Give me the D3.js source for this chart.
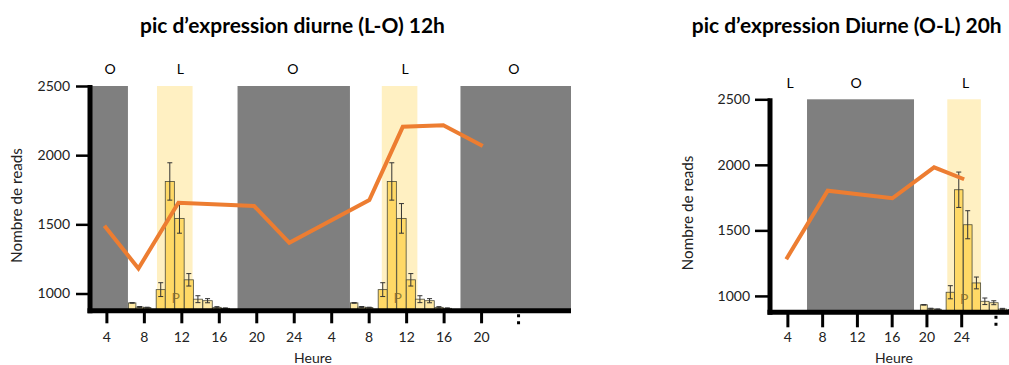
<!DOCTYPE html>
<html>
<head>
<meta charset="utf-8">
<script src="https://cdn.jsdelivr.net/npm/d3@7"></script>
<style>
  body { margin: 0; background: #fff; }
  svg { display: block; font-family: Lato, "Open Sans", sans-serif; }
</style>
</head>
<body>
<svg id="chart" width="1009" height="365"></svg>
<script>
// ---------------- DATA ----------------
const titles = ["pic d\u2019expression diurne (L-O) 12h", "pic d\u2019expression Diurne (O-L) 20h"];
const yLabel = "Nombre de reads";
const xLabel = "Heure";
const yTicks = [1000, 1500, 2000, 2500];
const yDomain = [875, 2500];

// left panel (hours on a continuous time axis)
const leftDomain = [2.25, 53.6];
const leftTickHours = [4, 8, 12, 16, 20, 24, 28, 32, 36, 40, 44];
const leftTickLabels = ["4", "8", "12", "16", "20", "24", "4", "8", "12", "16", "20"];
const leftEllipsisHour = 48;
const leftDark = [[2.25, 6.3], [18, 30], [41.8, 53.6]];
const leftLight = [[9.4, 13.2], [33.4, 37.2]];
const leftPhaseLabels = ["O", "L", "O", "L", "O"];
const leftPhaseHours = [4.4, 11.9, 23.9, 35.9, 47.5];
const leftLineHours = [3.79, 7.42, 11.69, 19.77, 23.53, 32.07, 35.64, 39.97, 44.18];
const leftLineValues = [1489, 1181, 1656, 1632, 1366, 1675, 2205, 2216, 2066];
const leftBarOffsets = [0, 23.7];

// right panel
const rightDomain = [2.0, 29.5];
const rightTickHours = [4, 8, 12, 16, 20, 24];
const rightTickLabels = ["4", "8", "12", "16", "20", "24"];
const rightEllipsisHour = 28;
const rightDark = [[6.26, 18.57]];
const rightLight = [[22.4, 26.26]];
const rightPhaseLabels = ["L", "O", "L"];
const rightPhaseHours = [4.3, 11.9, 24.5];
const rightLineHours = [3.87, 8.64, 16.08, 20.88, 24.34];
const rightLineValues = [1280, 1803, 1745, 1981, 1890];
const rightBarOffsets = [12.95];

// inset histogram (same in every copy), hours relative to the inset
const barHours = [6.75, 7.55, 8.35, 9.8, 10.77, 11.8, 12.8, 13.77, 14.8, 15.8, 16.7];
const barValues = [932, 902, 898, 1028, 1810, 1543, 1099, 959, 948, 900, 893];
const barErrors = [2, 4, 3, 50, 135, 107, 45, 25, 15, 5, 3];
const peakLabel = "P";
const peakHour = 11.4;

// ---------------- DRAW ----------------
const svg = d3.select("#chart");
svg.append("rect").attr("width", 1009).attr("height", 365).attr("fill", "#fff");

const DARK = "#7f7f7f", LIGHT = "#fff0c2", GOLD = "#ffd966", PALE = "#ffeaa6", ORANGE = "#ed7d31";

// bar widths derived from spacing of the inset bars
const barW = barHours.map((h, i) => {
  const dPrev = i > 0 ? h - barHours[i - 1] : Infinity;
  const dNext = i < barHours.length - 1 ? barHours[i + 1] - h : Infinity;
  return Math.min(1.0, dPrev, dNext);
});

function fitText(sel, target, base) {
  const w = sel.node().getComputedTextLength();
  sel.attr("font-size", base * target / w);
}

function panel(cfg) {
  const g = svg.append("g");
  const x = d3.scaleLinear().domain(cfg.domain).range(cfg.xRange);
  const y = d3.scaleLinear().domain(yDomain).range(cfg.yRange);
  const yTop = y(yDomain[1]), yBot = y(yDomain[0]);

  // dark periods
  g.selectAll(".dark").data(cfg.dark).join("rect")
    .attr("x", d => x(d[0])).attr("width", d => x(d[1]) - x(d[0]))
    .attr("y", yTop).attr("height", yBot - yTop).attr("fill", DARK);
  // light bands
  g.selectAll(".light").data(cfg.light).join("rect")
    .attr("x", d => x(d[0])).attr("width", d => x(d[1]) - x(d[0]))
    .attr("y", yTop).attr("height", yBot - yTop).attr("fill", LIGHT);

  // inset bars
  const inBand = h => cfg.light.some(b => h >= b[0] && h <= b[1]);
  cfg.offsets.forEach(off => {
    const bars = barHours.map((h, i) => ({ h: h + off, w: barW[i], v: barValues[i], e: barErrors[i] }));
    const bg = g.append("g");
    bg.selectAll("rect").data(bars).join("rect")
      .attr("x", d => x(d.h - d.w / 2))
      .attr("width", d => x(d.h + d.w / 2) - x(d.h - d.w / 2))
      .attr("y", d => y(d.v)).attr("height", d => yBot - y(d.v))
      .attr("fill", d => inBand(d.h) ? GOLD : PALE)
      .attr("stroke", "#4a4a3a").attr("stroke-width", 0.8);
    const eb = bg.selectAll(".eb").data(bars).join("g");
    eb.append("line")
      .attr("x1", d => x(d.h)).attr("x2", d => x(d.h))
      .attr("y1", d => y(d.v - d.e)).attr("y2", d => y(d.v + d.e))
      .attr("stroke", "#333").attr("stroke-width", 1);
    eb.append("line")
      .attr("x1", d => x(d.h) - 2.5).attr("x2", d => x(d.h) + 2.5)
      .attr("y1", d => y(d.v + d.e)).attr("y2", d => y(d.v + d.e))
      .attr("stroke", "#333").attr("stroke-width", 1);
    eb.append("line")
      .attr("x1", d => x(d.h) - 2.5).attr("x2", d => x(d.h) + 2.5)
      .attr("y1", d => y(d.v - d.e)).attr("y2", d => y(d.v - d.e))
      .attr("stroke", "#333").attr("stroke-width", 1);
    bg.append("text").text(peakLabel)
      .attr("x", x(peakHour + off)).attr("y", yBot - 8)
      .attr("text-anchor", "middle").attr("font-size", 14)
      .attr("fill", "#7f6a2a").attr("fill-opacity", 0.85);
  });

  // orange line
  const pts = cfg.lineHours.map((h, i) => [h, cfg.lineValues[i]]);
  g.append("path").datum(pts)
    .attr("d", d3.line().x(d => x(d[0])).y(d => y(d[1])))
    .attr("fill", "none").attr("stroke", ORANGE).attr("stroke-width", 4)
    .attr("stroke-linejoin", "miter");

  // y axis
  const ya = g.append("g").attr("transform", `translate(${cfg.xRange[0]},0)`)
    .call(d3.axisLeft(y).tickValues(yTicks).tickFormat(d3.format("d"))
      .tickSize(cfg.yTickSize).tickPadding(cfg.yTickPad));
  ya.select(".domain").remove();
  ya.selectAll(".tick line").attr("stroke", "#000").attr("stroke-width", 2.5);
  ya.selectAll(".tick text").attr("font-size", 14).attr("fill", "#222")
    .attr("font-family", "Lato, 'Open Sans', sans-serif");

  // x axis
  const xa = g.append("g").attr("transform", `translate(0,${yBot})`)
    .call(d3.axisBottom(x).tickValues(cfg.tickHours)
      .tickFormat((d, i) => cfg.tickLabels[i])
      .tickSize(cfg.xTickSize).tickPadding(cfg.xTickPad));
  xa.select(".domain").remove();
  xa.selectAll(".tick line").attr("stroke", "#000").attr("stroke-width", 3);
  xa.selectAll(".tick text").attr("font-size", 14).attr("fill", "#222")
    .attr("font-family", "Lato, 'Open Sans', sans-serif");
  // ellipsis tick (dotted)
  g.append("line")
    .attr("x1", x(cfg.ellipsis)).attr("x2", x(cfg.ellipsis))
    .attr("y1", yBot + 3.5).attr("y2", yBot + cfg.xTickSize + 1)
    .attr("stroke", "#000").attr("stroke-width", 3).attr("stroke-dasharray", "3,4");

  // thick axis lines
  g.append("line").attr("x1", cfg.xRange[0]).attr("x2", cfg.xRange[0])
    .attr("y1", yTop - 1).attr("y2", yBot + 2.5)
    .attr("stroke", "#000").attr("stroke-width", 5);
  g.append("line").attr("x1", cfg.xRange[0] - 2.5).attr("x2", cfg.xRange[1])
    .attr("y1", yBot).attr("y2", yBot)
    .attr("stroke", "#000").attr("stroke-width", 5);

  // phase labels
  g.selectAll(".phase").data(cfg.phaseLabels).join("text")
    .attr("x", (d, i) => x(cfg.phaseHours[i])).attr("y", cfg.phaseY)
    .attr("text-anchor", "middle").attr("font-size", 14).attr("fill", "#000")
    .text(d => d);

  // axis titles
  const yl = g.append("text").text(yLabel)
    .attr("transform", `translate(${cfg.yLabelX},${cfg.yLabelY}) rotate(-90)`)
    .attr("text-anchor", "middle").attr("font-size", 14).attr("fill", "#222");
  fitText(yl, 115, 14);
  g.append("text").text(xLabel)
    .attr("x", cfg.xLabelX).attr("y", 363)
    .attr("text-anchor", "middle").attr("font-size", 14).attr("fill", "#222");

  // title
  const t = g.append("text").text(cfg.title)
    .attr("x", cfg.titleX).attr("y", 32.5)
    .attr("text-anchor", "middle").attr("font-weight", "bold")
    .attr("font-size", 17).attr("fill", "#000");
  fitText(t, cfg.titleW, 17);
}

panel({
  title: titles[0], titleX: 292.5, titleW: 305,
  domain: leftDomain, xRange: [90, 571], yRange: [310.8, 86],
  tickHours: leftTickHours, tickLabels: leftTickLabels, ellipsis: leftEllipsisHour,
  dark: leftDark, light: leftLight,
  phaseLabels: leftPhaseLabels, phaseHours: leftPhaseHours, phaseY: 74,
  lineHours: leftLineHours, lineValues: leftLineValues,
  offsets: leftBarOffsets,
  yTickSize: 14, yTickPad: 6, xTickSize: 12.5, xTickPad: 8.5,
  yLabelX: 22, yLabelY: 205.5, xLabelX: 313
});

panel({
  title: titles[1], titleX: 846.7, titleW: 310,
  domain: rightDomain, xRange: [770, 1009], yRange: [312.3, 99.3],
  tickHours: rightTickHours, tickLabels: rightTickLabels, ellipsis: rightEllipsisHour,
  dark: rightDark, light: rightLight,
  phaseLabels: rightPhaseLabels, phaseHours: rightPhaseHours, phaseY: 88,
  lineHours: rightLineHours, lineValues: rightLineValues,
  offsets: rightBarOffsets,
  yTickSize: 15, yTickPad: 5, xTickSize: 15, xTickPad: 5,
  yLabelX: 693, yLabelY: 213, xLabelX: 894
});
</script>
</body>
</html>
